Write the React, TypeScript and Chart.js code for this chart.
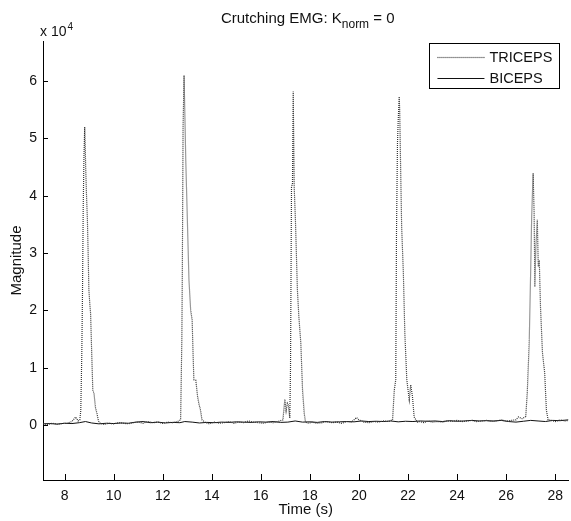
import { useEffect, useRef } from 'react';
import { Chart, registerables } from 'chart.js';

Chart.register(...registerables);

const titleMain = 'Crutching EMG: K';
const titleSub = 'norm';
const titleEnd = ' = 0';
const xLabel = 'Time (s)';
const yLabel = 'Magnitude';
const yMultiplierBase = 'x 10';
const yMultiplierExp = '4';
const seriesNames = ['TRICEPS', 'BICEPS'];

const xTicks = [8, 10, 12, 14, 16, 18, 20, 22, 24, 26, 28];
const yTicks = [0, 10000, 20000, 30000, 40000, 50000, 60000];
const yScaleFactor = 10000;
const xMin = 7.12;
const xMax = 28.54;
const yMin = -9600;
const yMax = 67000;

const tricepsTime = [
  7.12, 7.3, 7.5, 7.7, 7.9, 8.1, 8.3, 8.45, 8.55, 8.62, 8.66, 8.7, 8.73, 8.76, 8.79, 8.82, 8.84, 8.86, 8.89, 8.93,
  8.96, 8.99, 9.03, 9.06, 9.11, 9.15, 9.2, 9.26, 9.32, 9.38, 9.45, 9.6, 9.8, 10.0, 10.2, 10.4, 10.6, 10.8, 11.0, 11.2,
  11.4, 11.6, 11.8, 12.0, 12.2, 12.4, 12.6, 12.73, 12.78, 12.8, 12.83, 12.87, 12.91, 12.94, 13.0, 13.07, 13.14, 13.2,
  13.24, 13.27, 13.35, 13.42, 13.47, 13.54, 13.6, 13.75, 13.9, 14.1, 14.3, 14.5, 14.7, 14.9, 15.1, 15.3, 15.5, 15.7,
  15.9, 16.1, 16.3, 16.5, 16.7, 16.9, 16.98, 17.03, 17.08, 17.12, 17.18, 17.21, 17.25, 17.29, 17.32, 17.36, 17.41,
  17.49, 17.55, 17.63, 17.7, 17.77, 17.82, 17.95, 18.1, 18.3, 18.5, 18.7, 18.9, 19.1, 19.3, 19.5, 19.7, 19.9, 20.0,
  20.2, 20.4, 20.6, 20.8, 21.0, 21.2, 21.37, 21.44, 21.5, 21.53, 21.57, 21.6, 21.64, 21.66, 21.7, 21.74, 21.81, 21.87,
  21.95, 22.05, 22.11, 22.18, 22.25, 22.38, 22.5, 22.65, 22.8, 23.0, 23.2, 23.4, 23.6, 23.8, 24.0, 24.2, 24.4, 24.6,
  24.8, 25.0, 25.2, 25.4, 25.6, 25.8, 26.0, 26.2, 26.4, 26.5, 26.65, 26.8, 26.86, 26.94, 27.0, 27.04, 27.08, 27.1,
  27.14, 27.17, 27.21, 27.27, 27.31, 27.35, 27.4, 27.48, 27.57, 27.64, 27.71, 27.85, 28.0, 28.2, 28.4, 28.54,
];
const tricepsValue = [
  200, 100, 300, 150, 250, 300, 600, 1400, 700, 900, 2500, 12000, 23000, 38000, 47000, 52000, 49000, 45000, 40500, 35800,
  30000, 23600, 21000, 19500, 11900, 6100, 5500, 3000, 2000, 700, 300, 100, 300, 200, 400, 300, 200, 400, 500, 300,
  600, 400, 500, 300, 500, 400, 600, 900, 15000, 27000, 52000, 61000, 52700, 46200, 36600, 25300, 20000, 18300,
  12000, 7900, 7800, 5000, 3800, 2600, 900, 400, 200, 500, 300, 400, 600, 300, 500, 400, 700, 500,
  400, 300, 500, 400, 600, 900, 4500, 2500, 3800, 3500, 1200, 10000, 41500, 42200, 58200, 41500, 35800,
  23600, 18900, 14300, 6100, 2000, 500, 300, 500, 300, 400, 600, 400, 500, 300, 600, 500, 1300, 900,
  500, 400, 600, 500, 700, 600, 900, 6100, 7900, 33500, 49200, 53200, 57300, 55000, 44500, 34600, 26500, 16000,
  7900, 4400, 7000, 5000, 1400, 500, 600, 400, 700, 500, 600, 500, 700, 600, 800, 600, 700, 800,
  600, 700, 800, 600, 700, 900, 700, 800, 900, 1400, 1100, 1500, 5600, 14300, 27000, 36300, 41500, 43900,
  37000, 24100, 31000, 35800, 27600, 28800, 20600, 12600, 9100, 2600, 900, 800, 600, 900, 700, 800,
];

const bicepsTime = [
  7.12, 7.4, 7.7, 8.0, 8.3, 8.6, 8.85, 9.1, 9.4, 9.7, 10.0, 10.3, 10.6, 10.9, 11.2, 11.5, 11.8, 12.1, 12.4, 12.7,
  12.9, 13.2, 13.5, 13.8, 14.1, 14.4, 14.7, 15.0, 15.3, 15.6, 15.9, 16.2, 16.5, 16.8, 17.1, 17.4, 17.7, 18.0, 18.3,
  18.6, 18.9, 19.2, 19.5, 19.8, 20.1, 20.4, 20.7, 21.0, 21.3, 21.6, 21.9, 22.2, 22.5, 22.8, 23.1, 23.4, 23.7, 24.0,
  24.3, 24.6, 24.9, 25.2, 25.5, 25.8, 26.1, 26.4, 26.7, 27.0, 27.3, 27.6, 27.9, 28.2, 28.54,
];
const bicepsValue = [
  200, 250, 150, 300, 250, 400, 600, 350, 200, 300, 250, 350, 300, 500, 600, 400, 500, 350, 450, 400,
  600, 500, 350, 450, 400, 500, 450, 550, 500, 450, 550, 500, 600, 450, 500, 700, 500, 550, 450,
  600, 500, 550, 600, 550, 700, 600, 650, 600, 700, 550, 650, 600, 700, 650, 700, 600, 750, 650,
  700, 800, 700, 750, 700, 800, 600, 500, 650, 800, 700, 600, 800, 750, 900,
];

const FONT = '"Liberation Sans", Arial, Helvetica, sans-serif';
const TEXT = '#111';

const decorPlugin = {
  id: 'decor',
  afterDraw(chart: any) {
    const { ctx, chartArea } = chart;
    const xs = chart.scales.x;
    const ys = chart.scales.y;
    const { left, right, top, bottom } = chartArea;
    ctx.save();
    // inward tick marks
    ctx.strokeStyle = '#000';
    ctx.lineWidth = 1;
    ctx.beginPath();
    xTicks.forEach((v) => {
      const px = Math.round(xs.getPixelForValue(v)) + 0.5;
      ctx.moveTo(px, bottom);
      ctx.lineTo(px, bottom - 6);
    });
    yTicks.forEach((v) => {
      const py = Math.round(ys.getPixelForValue(v)) + 0.5;
      ctx.moveTo(left, py);
      ctx.lineTo(left + 5, py);
    });
    ctx.stroke();

    // title
    ctx.fillStyle = TEXT;
    ctx.textBaseline = 'alphabetic';
    const mainFont = `15px ${FONT}`;
    const subFont = `12px ${FONT}`;
    ctx.font = mainFont;
    const w1 = ctx.measureText(titleMain).width;
    const w3 = ctx.measureText(titleEnd).width;
    ctx.font = subFont;
    const w2 = ctx.measureText(titleSub).width;
    const total = w1 + w2 + w3;
    const cx = (left + right) / 2;
    let tx = cx - total / 2 + 2;
    const ty = 23;
    ctx.textAlign = 'left';
    ctx.font = mainFont;
    ctx.fillText(titleMain, tx, ty);
    tx += w1;
    ctx.font = subFont;
    ctx.fillText(titleSub, tx, ty + 5);
    tx += w2;
    ctx.font = mainFont;
    ctx.fillText(titleEnd, tx, ty);

    // multiplier
    ctx.font = `14px ${FONT}`;
    const mx = left - 3;
    ctx.fillText(yMultiplierBase, mx, top - 5);
    const mw = ctx.measureText(yMultiplierBase).width;
    ctx.font = `10px ${FONT}`;
    ctx.fillText(yMultiplierExp, mx + mw + 1, top - 11);

    // legend
    const lw = 130;
    const lh = 45;
    const lx = right - 9 - lw;
    const ly = top + 2;
    ctx.fillStyle = '#fff';
    ctx.fillRect(lx, ly, lw, lh);
    ctx.strokeStyle = '#000';
    ctx.lineWidth = 1;
    ctx.strokeRect(Math.round(lx) + 0.5, Math.round(ly) + 0.5, lw, lh);
    chart.data.datasets.forEach((ds: any, i: number) => {
      const yy = ly + 14 + i * 21;
      ctx.strokeStyle = ds.borderColor;
      ctx.lineWidth = ds.borderWidth;
      ctx.setLineDash(ds.borderDash || []);
      ctx.beginPath();
      ctx.moveTo(lx + 8, Math.round(yy) + 0.5);
      ctx.lineTo(lx + 55, Math.round(yy) + 0.5);
      ctx.stroke();
      ctx.setLineDash([]);
      ctx.fillStyle = TEXT;
      ctx.font = `14.5px ${FONT}`;
      ctx.textBaseline = 'middle';
      ctx.fillText(ds.label, lx + 60, yy + 1);
    });
    ctx.restore();
  },
};

export default function App() {
  const canvasRef = useRef<HTMLCanvasElement | null>(null);

  useEffect(() => {
    document.body.style.margin = '0';
    const canvas = canvasRef.current;
    if (!canvas) return;
    const chart = new Chart(canvas, {
      type: 'line',
      data: {
        datasets: [
          {
            label: seriesNames[0],
            data: tricepsTime.map((t, i) => ({ x: t, y: tricepsValue[i] })),
            borderColor: '#333',
            borderWidth: 1.2,
            borderDash: [1, 1],
            pointRadius: 0,
            tension: 0,
            fill: false,
          },
          {
            label: seriesNames[1],
            data: bicepsTime.map((t, i) => ({ x: t, y: bicepsValue[i] })),
            borderColor: '#111',
            borderWidth: 1,
            pointRadius: 0,
            tension: 0,
            fill: false,
          },
        ],
      },
      options: {
        responsive: false,
        animation: false,
        devicePixelRatio: 1,
        layout: { padding: { top: 41, right: 0, left: 0, bottom: 0 } },
        plugins: {
          legend: { display: false },
          title: { display: false },
          tooltip: { enabled: false },
        },
        scales: {
          x: {
            type: 'linear',
            min: xMin,
            max: xMax,
            afterBuildTicks: (scale: any) => {
              scale.ticks = xTicks.map((v) => ({ value: v }));
            },
            afterFit: (scale: any) => {
              scale.height = 41;
            },
            grid: { display: false, drawTicks: false },
            border: { display: true, color: '#000', width: 1 },
            ticks: {
              autoSkip: false,
              maxRotation: 0,
              padding: 8,
              color: TEXT,
              font: { family: FONT, size: 14 },
              callback: (v: any) => String(v),
            },
            title: {
              display: true,
              text: xLabel,
              color: TEXT,
              font: { family: FONT, size: 15 },
              padding: { top: 0, bottom: 2 },
            },
          },
          y: {
            type: 'linear',
            min: yMin,
            max: yMax,
            afterBuildTicks: (scale: any) => {
              scale.ticks = yTicks.map((v) => ({ value: v }));
            },
            afterFit: (scale: any) => {
              scale.width = 43;
            },
            grid: { display: false, drawTicks: false },
            border: { display: true, color: '#000', width: 1 },
            ticks: {
              autoSkip: false,
              padding: 6,
              color: TEXT,
              font: { family: FONT, size: 14 },
              callback: (v: any) => String(Number(v) / yScaleFactor),
            },
            title: {
              display: true,
              text: yLabel,
              color: TEXT,
              font: { family: FONT, size: 15 },
              padding: { top: 8, bottom: 0 },
            },
          },
        },
      },
      plugins: [decorPlugin],
    });
    return () => chart.destroy();
  }, []);

  return (
    <div style={{ position: 'fixed', left: 0, top: 0, width: 571, height: 521, background: '#fff' }}>
      <canvas ref={canvasRef} width={571} height={521} style={{ display: 'block', width: 571, height: 521 }} />
    </div>
  );
}
